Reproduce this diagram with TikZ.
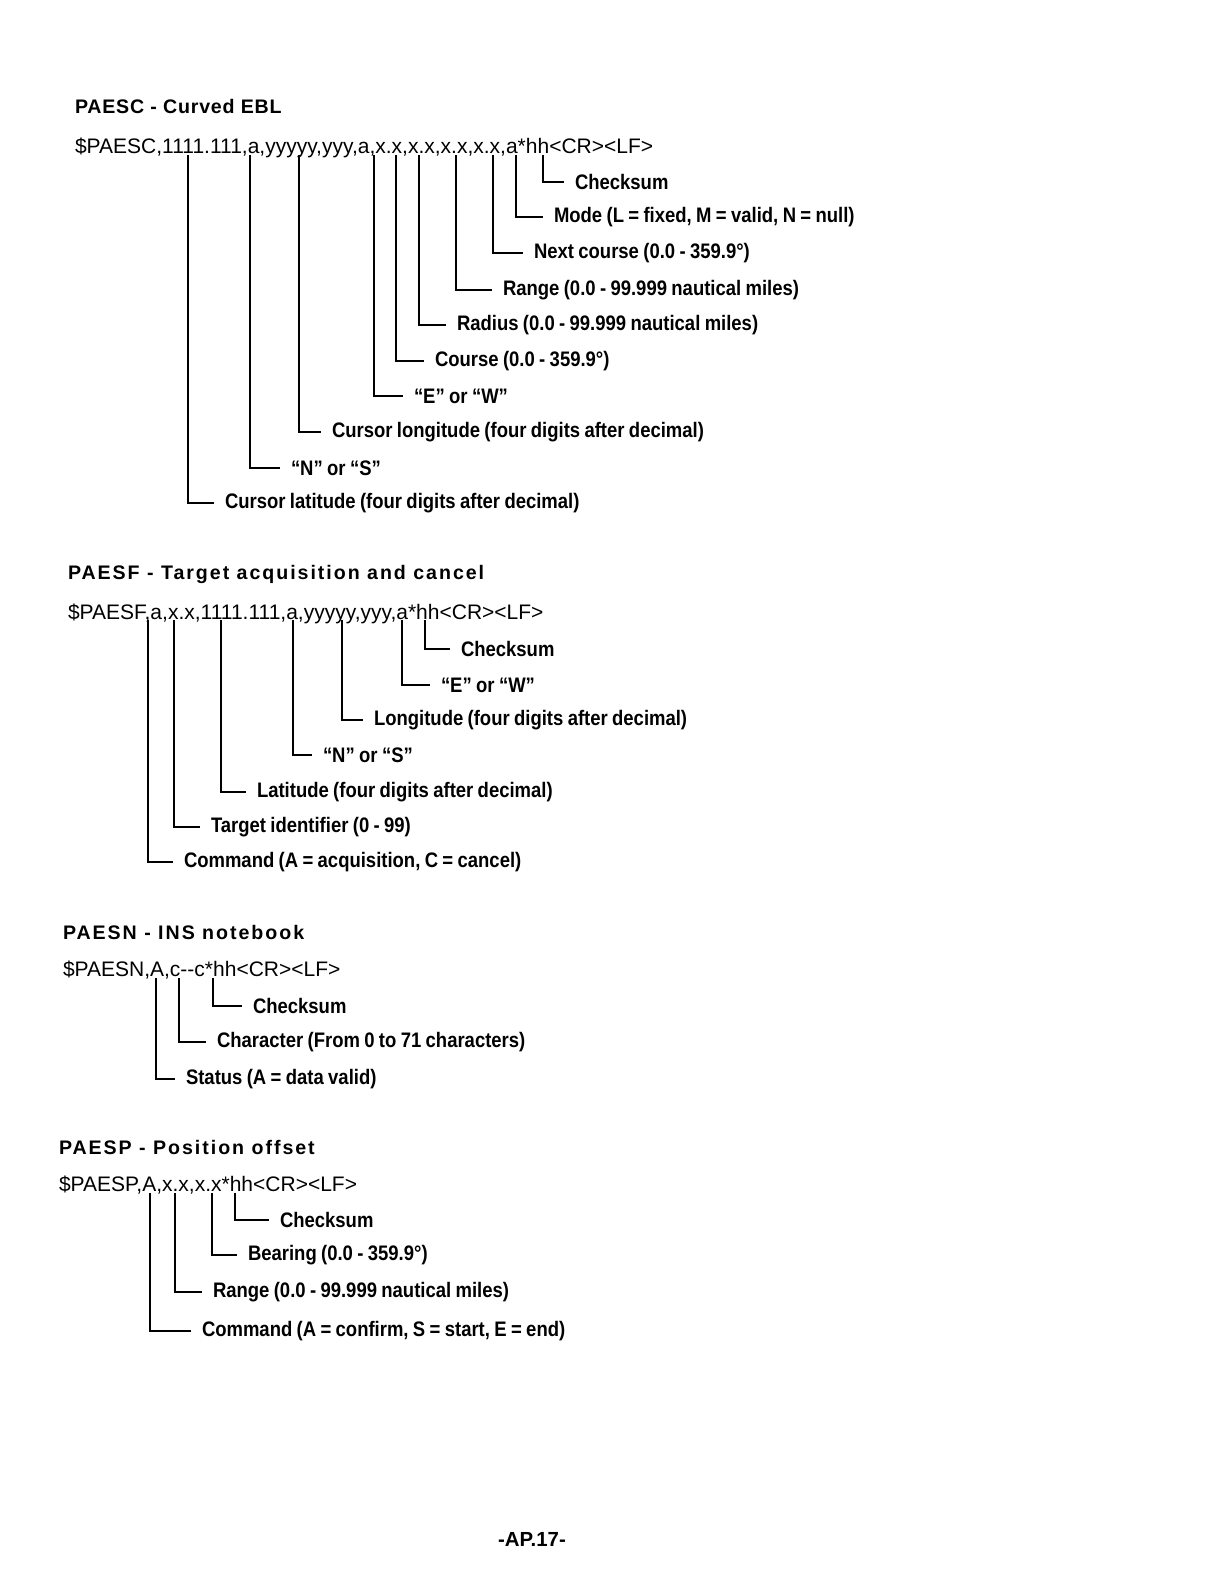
\documentclass[tikz,border=0pt]{standalone}
\usepackage{fontspec}
\setmainfont{Liberation Sans}
\newfontfamily\headfont[LetterSpace=10]{Liberation Sans}
\newfontfamily\lblfont[FakeStretch=0.88, WordSpace=0.85]{Liberation Sans}
\begin{document}
\begin{tikzpicture}[x=0.5pt, y=-0.5pt, line width=1pt,
  title/.style={anchor=west, inner sep=0pt, font=\headfont\bfseries\fontsize{9.8}{12}\selectfont},
  sentence/.style={anchor=west, inner sep=0pt, yshift=-1.5pt, font=\fontsize{10.5}{12}\selectfont},
  lbl/.style={anchor=west, inner xsep=5pt, inner ysep=0pt, yshift=-1pt, font=\lblfont\bfseries\fontsize{10.5}{12}\selectfont}]
  \useasboundingbox (0,0) rectangle (1224,1584);

  % PAESC
  \node[title] (tc) at (74,106) {\addfontfeature{LetterSpace=4}PAESC - Curved EBL};
  \node[sentence] (sc) at (74,145) {\$PAESC,1111.111,a,yyyyy,yyy,a,x.x,x.x,x.x,x.x,a*hh<CR><LF>};
  \coordinate (c1) at (188,155);
  \coordinate (c2) at (250,155);
  \coordinate (c3) at (299,155);
  \coordinate (c4) at (374,155);
  \coordinate (c5) at (396,155);
  \coordinate (c6) at (419,155);
  \coordinate (c7) at (456,155);
  \coordinate (c8) at (493,155);
  \coordinate (c9) at (516,155);
  \coordinate (c10) at (543,155);
  \node[lbl] (lc1) at (214,501) {Cursor latitude (four digits after decimal)};
  \node[lbl] (lc2) at (280,466) {“N” or “S”};
  \node[lbl] (lc3) at (321,430) {Cursor longitude (four digits after decimal)};
  \node[lbl] (lc4) at (403,394) {“E” or “W”};
  \node[lbl] (lc5) at (424,359) {Course (0.0 - 359.9°)};
  \node[lbl] (lc6) at (446,323) {Radius (0.0 - 99.999 nautical miles)};
  \node[lbl] (lc7) at (492,288) {Range (0.0 - 99.999 nautical miles)};
  \node[lbl] (lc8) at (523,251) {Next course (0.0 - 359.9°)};
  \node[lbl] (lc9) at (543,215) {Mode (L = fixed, M = valid, N = null)};
  \node[lbl] (lc10) at (564,180) {Checksum};
  \draw (c1) |- (lc1);
  \draw (c2) |- (lc2);
  \draw (c3) |- (lc3);
  \draw (c4) |- (lc4);
  \draw (c5) |- (lc5);
  \draw (c6) |- (lc6);
  \draw (c7) |- (lc7);
  \draw (c8) |- (lc8);
  \draw (c9) |- (lc9);
  \draw (c10) |- (lc10);

  % PAESF
  \node[title] (tf) at (67,574) {PAESF - Target acquisition and cancel};
  \node[sentence] (sf) at (67,611) {\$PAESF,a,x.x,1111.111,a,yyyyy,yyy,a*hh<CR><LF>};
  \coordinate (f1) at (148,620);
  \coordinate (f2) at (174,620);
  \coordinate (f3) at (221,620);
  \coordinate (f4) at (293,620);
  \coordinate (f5) at (342,620);
  \coordinate (f6) at (402,620);
  \coordinate (f7) at (425,620);
  \node[lbl] (lf1) at (173,860) {Command (A = acquisition, C = cancel)};
  \node[lbl] (lf2) at (200,825) {Target identifier (0 - 99)};
  \node[lbl] (lf3) at (246,790) {Latitude (four digits after decimal)};
  \node[lbl] (lf4) at (312,753) {“N” or “S”};
  \node[lbl] (lf5) at (363,718) {Longitude (four digits after decimal)};
  \node[lbl] (lf6) at (430,683) {“E” or “W”};
  \node[lbl] (lf7) at (450,647) {Checksum};
  \draw (f1) |- (lf1);
  \draw (f2) |- (lf2);
  \draw (f3) |- (lf3);
  \draw (f4) |- (lf4);
  \draw (f5) |- (lf5);
  \draw (f6) |- (lf6);
  \draw (f7) |- (lf7);

  % PAESN
  \node[title] (tn) at (62,932) {PAESN - INS notebook};
  \node[sentence] (sn) at (62,967) {\$PAESN,A,c-{}-c*hh<CR><LF>};
  \coordinate (n1) at (156,978);
  \coordinate (n2) at (179,978);
  \coordinate (n3) at (213,978);
  \node[lbl] (ln1) at (175,1077) {Status (A = data valid)};
  \node[lbl] (ln2) at (206,1040) {Character (From 0 to 71 characters)};
  \node[lbl] (ln3) at (242,1004) {Checksum};
  \draw (n1) |- (ln1);
  \draw (n2) |- (ln2);
  \draw (n3) |- (ln3);

  % PAESP
  \node[title] (tp) at (58,1147) {PAESP - Position offset};
  \node[sentence] (sp) at (58,1182) {\$PAESP,A,x.x,x.x*hh<CR><LF>};
  \coordinate (p1) at (150,1193);
  \coordinate (p2) at (175,1193);
  \coordinate (p3) at (212,1193);
  \coordinate (p4) at (235,1193);
  \node[lbl] (lp1) at (191,1329) {Command (A = confirm, S = start, E = end)};
  \node[lbl] (lp2) at (202,1290) {Range (0.0 - 99.999 nautical miles)};
  \node[lbl] (lp3) at (237,1253) {Bearing (0.0 - 359.9°)};
  \node[lbl] (lp4) at (269,1218) {Checksum};
  \draw (p1) |- (lp1);
  \draw (p2) |- (lp2);
  \draw (p3) |- (lp3);
  \draw (p4) |- (lp4);

  % page number
  \node[font=\bfseries\fontsize{10.2}{12}\selectfont] (page) at (532,1539) {-AP.17-};
\end{tikzpicture}
\end{document}
